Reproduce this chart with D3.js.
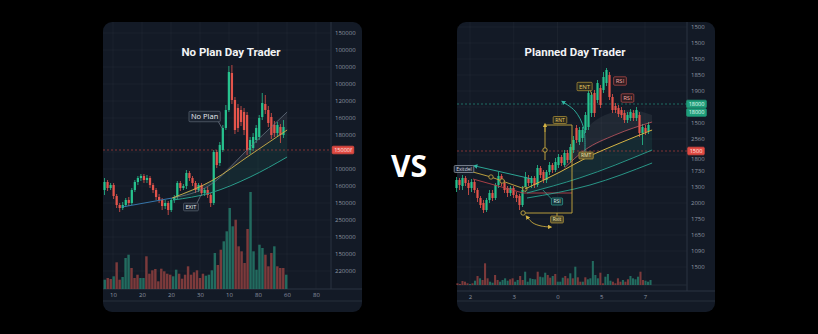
<!DOCTYPE html>
<html>
<head>
<meta charset="utf-8">
<script src="https://cdn.jsdelivr.net/npm/d3@7"></script>
<style>
body { margin: 0; background: #000; }
svg { display: block; font-family: "Open Sans", "DejaVu Sans", sans-serif; }
</style>
</head>
<body>
<svg id="chart" width="818" height="334"></svg>
<script>
// ================= left chart : no plan =================
var leftOpen  = [30,38,32,35,24,15,12,15,20,17, 30,38,42,44,40,42,35,30,23,20, 14,17,10,20,23,37,32,34,47,42,
                 37,30,35,27,30,25,17,68,57,70, 92,110,147,120,112,110,108,105,70,72, 80,83,103,116,110,103,95,87,93,85];
var leftClose = [38,32,35,24,15,12,15,20,17,30, 38,42,44,40,42,35,30,23,20,14, 17,10,20,23,37,32,34,47,42,37,
                 30,35,27,30,25,17,68,55,75,92, 110,148,120,90,92,98,90,70,80,83, 92,102,117,110,97,85,87,95,85,93];
var leftHigh  = [42,40,37,37,26,17,18,22,23,32, 40,44,46,46,45,44,37,32,26,22, 20,19,22,25,39,39,36,50,49,44,
                 39,37,37,32,33,27,70,70,78,95, 115,154,155,123,116,114,112,108,83,87, 95,105,127,125,114,107,99,98,96,100];
var leftLow   = [25,29,30,21,12,8,10,13,14,15, 28,35,39,37,37,32,27,20,17,10, 11,5,8,17,21,29,30,31,39,34,
                 27,28,24,24,22,13,15,52,54,68, 90,108,116,86,88,94,85,65,66,69, 77,80,100,106,93,81,83,84,77,82];
var leftVolume = [93,110,100,127,267,93,120,310,343,210, 110,143,110,110,327,153,187,200,77,203,
                  177,153,143,127,193,153,103,143,227,143, 167,187,110,153,133,143,187,360,240,393,
                  477,577,810,627,693,427,377,260,600,970, 377,193,443,410,343,227,360,427,227,210, 210,143];
var leftVolumeUp = [1,0,0,1,0,0,1,1,1,0, 0,0,1,1,0,0,0,0,0,0, 0,0,0,1,1,0,0,0,0,0,
                    0,0,0,0,1,1,1,1,0,0, 1,1,1,1,0,0,0,0,0,1, 1,1,1,1,0,0,0,1,0,0, 0,1];
var leftPriceLabels = ["150000","100000","100000","100000","120000","160000","180000","150000",
                       "100000","160000","150000","250000","150000","150000","220000"];
var leftTimeLabels = ["10","20","20","30","10","80","60","80"];
var leftLevel = 70, leftLevelLabel = "15000f";

// ================= right chart : planned =================
var rightOpen  = [32,40,34,42,37,32,38,30,22,17, 10,20,27,22,35,44,37,32,27,32, 25,24,15,30,42,37,42,35,52,48,
                  40,48,55,50,55,63,55,67,60,70, 92,78,82,90,93,107,127,120,132,130, 137,145,123,114,112,110,107,100,102,107,
                  102,105,87,92,89];
var rightClose = [40,35,42,37,32,38,30,22,15,10, 20,27,22,35,44,37,30,27,32,25, 22,15,30,43,37,42,35,52,45,40,
                  48,55,50,58,63,57,67,60,73,80, 80,90,90,105,127,125,107,137,115,143, 150,123,110,110,106,105,100,105,108,102,
                  110,87,93,88,95];
var rightHigh  = [43,42,45,44,40,41,40,32,24,20, 22,30,30,37,48,46,40,34,34,34, 28,26,34,48,45,44,44,55,54,50,
                  50,58,57,62,66,65,70,70,76,84, 95,93,93,108,130,128,130,140,135,148, 152,148,126,117,115,113,110,108,111,110,
                  113,108,96,95,98];
var rightLow   = [28,30,30,34,25,28,27,18,12,7, 8,17,19,20,32,34,27,23,24,22, 18,10,13,28,34,32,32,33,42,37,
                  37,45,47,48,52,54,53,57,57,67, 77,75,78,87,90,103,103,117,112,127, 134,120,107,107,103,102,97,97,99,99,
                  99,83,75,85,86];
var rightVolume = [17,10,40,33,17,10,17,43,90,67, 50,217,67,33,23,100,50,33,50,67,
                   43,57,67,33,50,90,50,133,33,67, 60,57,133,83,77,123,100,73,90,110,
                   33,33,73,90,67,117,67,183,77,33, 33,77,57,67,240,100,67,123,17,83,
                   110,43,33,17,67,33,50,33,57,90, 67,57,83,133,50,43,33,50];
var rightVolumeUp = [0,0,0,0,0,1,0,1,0,1, 0,0,0,1,1,0,0,1,1,1, 1,0,0,1,1,0,0,1,1,1, 1,1,0,1,1,1,0,0,1,0,
                     1,1,1,0,0,1,0,1,0,0, 1,0,1,1,1,1,1,0,0,1, 1,1,0,0,0,0,1,0,0,1, 1,1,1,0,0,1,1,1];
var rightPriceLabels = ["1500","1500","1500","1850","1900","1500","1500","2560",
                        "1800","1730","1300","2000","1750","1650","1090","1500"];
var rightTimeLabels = ["2","3","0","5","7"];
var rightLevel = 69, rightLevelLabel = "1500";
var rightTarget = 116, rightTargetLabels = ["18000","18000"];

// annotation geometry, in [candle index, price]
var leftTrend   = [[5.8,13],[22.3,22]];
var leftConeTop = [[22.3,22],[34.8,35],[48,73],[60.2,108]];
var leftMid     = [[22.3,22],[35.8,40],[48,65],[60.2,90]];
var leftConeLow = [[22.6,20],[34.8,27],[48,43],[60.2,63]];

var rightExitArrow = [[25.2,41],[6.2,54]];
var rightYellowDots = [[5.5,48],[11.5,43],[15.2,39],[22.8,31]];
var rightRed = [[5.5,41],[22.2,27],[38.5,27]];
var rightMid = [[22.8,31],[34.5,48],[43.8,63],[54.5,77],[65.2,90]];
var rightPink = [[36,52],[42.8,70],[52.8,85],[65.2,98]];
var rightDome = [[36,60],[42.8,90],[49.5,105],[57.8,110],[65.2,105]];
var rightTeal1 = [[23.5,27],[41,42],[65.2,70]];
var rightTeal2 = [[23.5,22],[44.5,35],[65.2,57]];
var rightCurl = [[42.8,68],[42.4,92],[39.5,109],[35.5,118]];
var rightSwing = [[23.5,3],[25.5,-3],[28.2,-6],[31.2,-7]];

var UP = "#27c28e", DOWN = "#e4544b";
var VOL_UP = "#226b5f", VOL_DOWN = "#7c3a3b";

var svg = d3.select("#chart");
svg.append("rect").attr("width", 818).attr("height", 334).attr("fill", "#000");

var defs = svg.append("defs");
function marker(id, color) {
    defs.append("marker").attr("id", id)
        .attr("viewBox", "0 0 10 10").attr("refX", 5).attr("refY", 5)
        .attr("markerWidth", 5).attr("markerHeight", 5)
        .attr("orient", "auto-start-reverse")
        .append("path").attr("d", "M0,0L10,5L0,10z").attr("fill", color);
}
marker("arTeal", "#2fb5a2");
marker("arYellow", "#d6b445");

function tag(g, cx, cy, txt, stroke, fill, color, fs) {
    var t = g.append("g");
    var r = t.append("rect");
    var s = t.append("text").attr("x", cx).attr("y", cy).attr("dy", "0.35em")
        .attr("text-anchor", "middle").attr("font-size", fs).attr("fill", color).text(txt);
    var w = s.node().getComputedTextLength();
    r.attr("x", cx - w / 2 - 2).attr("y", cy - fs * 0.7).attr("width", w + 4).attr("height", fs * 1.4)
        .attr("rx", 1).attr("fill", fill).attr("stroke", stroke).attr("stroke-width", 0.7);
}

// draws background, grid, volume and axes of one panel
function drawPanel(c) {
    var g = svg.append("g");
    g.append("rect").attr("x", c.left).attr("y", 22).attr("width", c.width).attr("height", 290)
        .attr("rx", 9).attr("fill", "#131a26");

    // grid
    g.selectAll(".hgrid").data(d3.range(c.priceLabels.length)).join("line").attr("class", "hgrid")
        .attr("x1", c.left).attr("x2", c.axisX)
        .attr("y1", function (d) { return c.yLab(d); }).attr("y2", function (d) { return c.yLab(d); })
        .attr("stroke", "#ffffff").attr("stroke-opacity", 0.035);
    g.selectAll(".vgrid").data(d3.range(c.timeLabels.length)).join("line").attr("class", "vgrid")
        .attr("x1", function (d) { return c.xLab(d); }).attr("x2", function (d) { return c.xLab(d); })
        .attr("y1", 22).attr("y2", c.axisY)
        .attr("stroke", "#ffffff").attr("stroke-opacity", 0.035);

    // frame lines
    g.append("line").attr("x1", c.axisX).attr("x2", c.axisX).attr("y1", 22).attr("y2", c.axisY)
        .attr("stroke", "#2a3341");
    g.append("line").attr("x1", c.left).attr("x2", c.left + c.width).attr("y1", c.axisY).attr("y2", c.axisY)
        .attr("stroke", "#2a3341");
    g.append("line").attr("x1", c.left).attr("x2", c.left + c.width).attr("y1", 301).attr("y2", 301)
        .attr("stroke", "#262e3b");
    if (c.volBase !== c.axisY) {
        g.append("line").attr("x1", c.left).attr("x2", c.axisX).attr("y1", c.volBase).attr("y2", c.volBase)
            .attr("stroke", "#222a37");
    }

    // volume
    g.selectAll(".vol").data(c.volume).join("rect").attr("class", "vol")
        .attr("x", function (d, i) { return c.vx(i); })
        .attr("width", c.vx.bandwidth())
        .attr("y", function (d) { return c.vy(d); })
        .attr("height", function (d) { return c.volBase - c.vy(d); })
        .attr("fill", function (d, i) { return c.volumeUp[i] ? VOL_UP : VOL_DOWN; });

    // title
    g.append("text").attr("x", c.titleX).attr("y", 56).attr("text-anchor", "middle")
        .attr("font-family", "Roboto, sans-serif")
        .attr("font-size", 11.5).attr("font-weight", 700).attr("fill", "#f2f3f5").text(c.title);

    // axes; labels that sit under a level box are hidden or nudged
    var yAxis = g.append("g").attr("transform", "translate(" + c.axisX + ",0)")
        .call(d3.axisRight(c.yLab).tickSize(0).tickPadding(4)
            .tickFormat(function (i) { return c.priceLabels[i]; }))
        .attr("font-family", null)
        .call(function (a) { a.select(".domain").remove(); });
    yAxis.selectAll("text").attr("fill", "#8e96a3").attr("font-size", 6);
    yAxis.selectAll(".tick").each(function (i) {
        var ty = c.yLab(i);
        var near = d3.min(c.boxYs, function (b) { return Math.abs(b - ty); });
        if (near < 3.5) d3.select(this).remove();
        else if (near < 6) d3.select(this).select("text").attr("dy", "0.95em");
    });
    g.append("g").attr("transform", "translate(0," + c.axisY + ")")
        .call(d3.axisBottom(c.xLab).tickSize(0).tickPadding(3.5)
            .tickFormat(function (i) { return c.timeLabels[i]; }))
        .attr("font-family", null)
        .call(function (a) { a.select(".domain").remove(); })
        .selectAll("text").attr("fill", "#8e96a3").attr("font-size", 6);
    return g;
}

function drawCandles(g, x, y, open, close, high, low) {
    var step = x(1) - x(0), w = step * 0.74;
    var idx = d3.range(open.length);
    g.selectAll(".wick").data(idx).join("line").attr("class", "wick")
        .attr("x1", function (i) { return x(i); }).attr("x2", function (i) { return x(i); })
        .attr("y1", function (i) { return y(high[i]); }).attr("y2", function (i) { return y(low[i]); })
        .attr("stroke", function (i) { return close[i] >= open[i] ? UP : DOWN; })
        .attr("stroke-width", 0.8);
    g.selectAll(".body").data(idx).join("rect").attr("class", "body")
        .attr("x", function (i) { return x(i) - w / 2; }).attr("width", w)
        .attr("y", function (i) { return y(Math.max(open[i], close[i])); })
        .attr("height", function (i) { return Math.max(1, Math.abs(y(open[i]) - y(close[i]))); })
        .attr("fill", function (i) { return close[i] >= open[i] ? UP : DOWN; });
}

// ---------------- left panel ----------------
var xL = d3.scaleLinear().domain([-0.5, 59.5]).range([103, 285]);
var yL = d3.scaleLinear().domain([0, 160]).range([220, 60]);
var gL = drawPanel({
    left: 103, width: 259, axisX: 331, axisY: 289, volBase: 289,
    title: "No Plan Day Trader", titleX: 231,
    priceLabels: leftPriceLabels, timeLabels: leftTimeLabels,
    yLab: d3.scalePoint().domain(d3.range(leftPriceLabels.length)).range([33, 271]),
    xLab: d3.scalePoint().domain(d3.range(leftTimeLabels.length)).range([113, 316]),
    boxYs: [yL(leftLevel)],
    volume: leftVolume, volumeUp: leftVolumeUp,
    vx: d3.scaleBand().domain(d3.range(leftVolume.length)).range([103, 288]).padding(0.18),
    vy: d3.scaleLinear().domain([0, 1000]).range([289, 189])
});

var lineL = d3.line().x(function (d) { return xL(d[0]); }).y(function (d) { return yL(d[1]); });
var curveL = d3.line().curve(d3.curveMonotoneX).x(function (d) { return xL(d[0]); }).y(function (d) { return yL(d[1]); });

gL.append("path").attr("d", lineL(leftConeTop.concat(leftMid.slice().reverse())) + "Z")
    .attr("fill", "#c8d2de").attr("fill-opacity", 0.08);
gL.append("path").attr("d", lineL(leftMid.concat(leftConeLow.slice().reverse())) + "Z")
    .attr("fill", "#2aa38e").attr("fill-opacity", 0.1);

// red level
gL.append("line").attr("x1", 103).attr("x2", 331).attr("y1", yL(leftLevel)).attr("y2", yL(leftLevel))
    .attr("stroke", "#b0403c").attr("stroke-width", 0.7).attr("stroke-dasharray", "2,2");

drawCandles(gL, xL, yL, leftOpen, leftClose, leftHigh, leftLow);

gL.append("path").attr("d", lineL(leftTrend)).attr("fill", "none").attr("stroke", "#3a7fb8").attr("stroke-width", 0.9);
gL.append("path").attr("d", curveL(leftConeTop)).attr("fill", "none").attr("stroke", "#6f7b8a").attr("stroke-width", 0.7);
gL.append("path").attr("d", curveL(leftMid)).attr("fill", "none").attr("stroke", "#d1b24a").attr("stroke-width", 0.9);
gL.append("path").attr("d", curveL(leftConeLow)).attr("fill", "none").attr("stroke", "#2a9e8c").attr("stroke-width", 1);

gL.append("path").attr("d", lineL([[37.4, 99], [38.7, 92]])).attr("stroke", "#8a94a2").attr("stroke-width", 0.6);
gL.append("path").attr("d", lineL([[30.5, 17], [31.8, 25]])).attr("stroke", "#8a94a2").attr("stroke-width", 0.6);
tag(gL, xL(33), yL(103.5), "No Plan", "#5d6776", "#1c2431", "#e8eaee", 7.5);
tag(gL, xL(28.5), yL(13), "EXIT", "#5d6776", "#1c2431", "#e8eaee", 5.5);

tag(gL, 343, yL(leftLevel), leftLevelLabel, "#e04a42", "#e04a42", "#ffe9e6", 5.5);

// ---------------- right panel ----------------
var xR = d3.scaleLinear().domain([-0.5, 64.5]).range([455, 650]);
var yR = d3.scaleLinear().domain([0, 160]).range([220, 60]);
var gR = drawPanel({
    left: 457, width: 258, axisX: 687, axisY: 291, volBase: 285,
    title: "Planned Day Trader", titleX: 575,
    priceLabels: rightPriceLabels, timeLabels: rightTimeLabels,
    yLab: d3.scalePoint().domain(d3.range(rightPriceLabels.length)).range([27, 267]),
    xLab: d3.scalePoint().domain(d3.range(rightTimeLabels.length)).range([470, 645]),
    boxYs: [yR(rightLevel), yR(rightTarget), yR(rightTarget) + 8.5],
    volume: rightVolume, volumeUp: rightVolumeUp,
    vx: d3.scaleBand().domain(d3.range(rightVolume.length)).range([456, 652]).padding(0.18),
    vy: d3.scaleLinear().domain([0, 1000]).range([285, 185])
});

var lineR = d3.line().x(function (d) { return xR(d[0]); }).y(function (d) { return yR(d[1]); });
var curveR = d3.line().curve(d3.curveMonotoneX).x(function (d) { return xR(d[0]); }).y(function (d) { return yR(d[1]); });
var looseR = d3.line().curve(d3.curveCatmullRom).x(function (d) { return xR(d[0]); }).y(function (d) { return yR(d[1]); });

gR.append("path").attr("d", curveR(rightDome) + "L" + lineR(rightPink.slice().reverse()).slice(1) + "Z")
    .attr("fill", "#d8dde6").attr("fill-opacity", 0.07);
gR.append("path").attr("d", lineR(rightMid.concat(rightTeal1.slice().reverse())) + "Z")
    .attr("fill", "#2aa38e").attr("fill-opacity", 0.12);

// level lines
gR.append("line").attr("x1", 457).attr("x2", 687).attr("y1", yR(rightLevel)).attr("y2", yR(rightLevel))
    .attr("stroke", "#b0403c").attr("stroke-width", 0.7).attr("stroke-dasharray", "2,2");
gR.append("line").attr("x1", 457).attr("x2", 687).attr("y1", yR(rightTarget)).attr("y2", yR(rightTarget))
    .attr("stroke", "#23927f").attr("stroke-width", 0.7).attr("stroke-dasharray", "2,2");

drawCandles(gR, xR, yR, rightOpen, rightClose, rightHigh, rightLow);

gR.append("path").attr("d", lineR(rightExitArrow)).attr("fill", "none").attr("stroke", "#2fb5a2")
    .attr("stroke-width", 0.9).attr("marker-end", "url(#arTeal)");
gR.append("path").attr("d", lineR(rightYellowDots)).attr("fill", "none").attr("stroke", "#c9aa40").attr("stroke-width", 0.9);
gR.selectAll(".ydot").data(rightYellowDots.slice(1)).join("circle").attr("class", "ydot")
    .attr("cx", function (d) { return xR(d[0]); }).attr("cy", function (d) { return yR(d[1]); })
    .attr("r", 2.2).attr("fill", "#131a26").attr("stroke", "#c9aa40").attr("stroke-width", 0.8);
gR.append("path").attr("d", lineR(rightRed)).attr("fill", "none").attr("stroke", "#b8444a").attr("stroke-width", 0.9);
gR.append("path").attr("d", curveR(rightPink)).attr("fill", "none").attr("stroke", "#c2555e").attr("stroke-width", 0.8);
gR.append("path").attr("d", curveR(rightMid)).attr("fill", "none").attr("stroke", "#d4b445").attr("stroke-width", 1);
gR.append("path").attr("d", curveR(rightTeal1)).attr("fill", "none").attr("stroke", "#2aa391").attr("stroke-width", 0.9);
gR.append("path").attr("d", curveR(rightTeal2)).attr("fill", "none").attr("stroke", "#2aa391").attr("stroke-width", 0.9);
gR.append("path").attr("d", looseR(rightCurl)).attr("fill", "none").attr("stroke", "#2fb5a2")
    .attr("stroke-width", 0.9).attr("marker-end", "url(#arTeal)");

// plan bracket
var bracket = gR.append("g").attr("stroke", "#c9aa40").attr("stroke-width", 0.9).attr("fill", "none");
bracket.append("path").attr("d", lineR([[29.5, 60], [29.5, 95], [38.5, 95], [38.5, 7], [22.2, 7]]));
bracket.append("path").attr("d", lineR([[29.5, 88], [29.5, 95]])).attr("marker-end", "url(#arYellow)");
bracket.append("path").attr("d", lineR([[33.5, 7], [33.5, 3]]));
bracket.append("circle").attr("cx", xR(29.5)).attr("cy", yR(70)).attr("r", 2.2).attr("fill", "#131a26");
bracket.append("circle").attr("cx", xR(22.2)).attr("cy", yR(7)).attr("r", 2.2).attr("fill", "#131a26");
bracket.append("path").attr("d", looseR(rightSwing)).attr("marker-start", "url(#arYellow)").attr("marker-end", "url(#arYellow)");

gR.append("path").attr("d", lineR([[28.8, 30], [32, 20]])).attr("stroke", "#2fb5a2").attr("stroke-width", 0.7);
gR.append("path").attr("d", lineR([[44.5, 130], [45.2, 125]])).attr("stroke", "#c9aa40").attr("stroke-width", 0.7);

tag(gR, xR(42.7), yR(133.5), "ENT", "#b8993a", "#2a2a1f", "#e6c862", 6);
tag(gR, xR(54.5), yR(139), "RSI", "#c0504d", "#2a1b20", "#f2a7a3", 6);
tag(gR, xR(57), yR(122), "RSI", "#c0504d", "#2a1b20", "#f2a7a3", 6);
tag(gR, xR(34.5), yR(100), "RNT", "#b8993a", "#2a2a1f", "#e6c862", 5);
tag(gR, xR(43.2), yR(64.5), "RMT", "#b8993a", "#5b5330", "#f0e2a8", 5);
tag(gR, xR(33.5), yR(18.5), "RSI", "#2fa596", "#16343a", "#d9f0ec", 5);
tag(gR, xR(33.5), yR(0.5), "Rxit", "#b8993a", "#4e4a2e", "#f0e2a8", 5);
tag(gR, xR(2.5), yR(51), "Exitdel", "#9aa3b0", "#1c2431", "#d9dde3", 5);

tag(gR, 696, yR(rightLevel), rightLevelLabel, "#e04a42", "#e04a42", "#ffe9e6", 5.5);
tag(gR, 696.5, yR(rightTarget), rightTargetLabels[0], "#1f9e7a", "#1f9e7a", "#e6fff6", 5.5);
tag(gR, 696.5, yR(rightTarget) + 8.5, rightTargetLabels[1], "#1f9e7a", "#1f9e7a", "#e6fff6", 5.5);

// ---------------- VS ----------------
svg.append("text").attr("x", 409).attr("y", 177).attr("text-anchor", "middle")
    .attr("font-size", 30).attr("font-weight", 700).attr("fill", "#ffffff").text("VS");
</script>
</body>
</html>
